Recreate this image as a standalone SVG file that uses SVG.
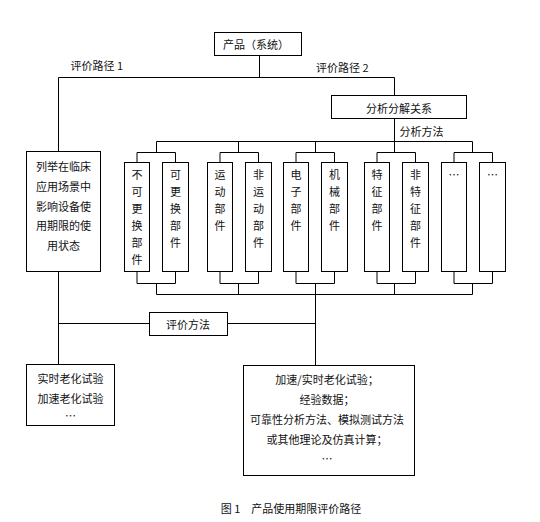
<svg xmlns="http://www.w3.org/2000/svg" width="540" height="522" viewBox="0 0 540 522">
<style>
  .box{fill:#fff;stroke:#000;stroke-width:1}
  .ln{fill:none;stroke:#000;stroke-width:1}
  text{font-family:"Noto Sans CJK SC","Noto Sans",sans-serif;font-size:11px;fill:#111}
  .c{text-anchor:middle}
</style>
<rect width="540" height="522" fill="#fff"/>
<g id="connectors" class="ln">
  <path d="M259.5 55.5V77.5M58.5 77.5H394.5M58.5 77.5V151.5M394.5 77.5V95.5M394.5 118.5V141.5"/>
  <path d="M156.5 141.5H472.5M156.5 141.5V152.5M238.5 141.5V152.5M315.5 141.5V152.5M394.5 141.5V152.5M472.5 141.5V152.5"/>
  <path d="M137 152.5H175.5M137 152.5V162.5M175.5 152.5V162.5"/>
  <path d="M220 152.5H258.5M220 152.5V162.5M258.5 152.5V162.5"/>
  <path d="M296 152.5H334.5M296 152.5V162.5M334.5 152.5V162.5"/>
  <path d="M377 152.5H415.5M377 152.5V162.5M415.5 152.5V162.5"/>
  <path d="M454 152.5H492.5M454 152.5V162.5M492.5 152.5V162.5"/>
  <path d="M137 271.5V283.5H175.5V271.5M220 271.5V283.5H258.5V271.5M296 271.5V283.5H334.5V271.5M377 271.5V283.5H415.5V271.5M454 271.5V283.5H492.5V271.5"/>
  <path d="M156.5 283.5V294.5M238.5 283.5V294.5M315.5 283.5V294.5M394.5 283.5V294.5M472.5 283.5V294.5M156.5 294.5H472.5"/>
  <path d="M315.5 294.5V365.5M58.5 271.5V364.5M58.5 323.5H149.5M227.5 323.5H315.5"/>
</g>
<g id="labels">
  <text x="70.5" y="70">评价路径 1</text>
  <text x="316" y="72">评价路径 2</text>
  <text x="399.5" y="136">分析方法</text>
</g>
<g id="product">
  <rect class="box" x="214.5" y="32.5" width="87" height="23"/>
  <text class="c" x="256" y="48.5">产品（系统）</text>
</g>
<g id="decompose">
  <rect class="box" x="331.5" y="95.5" width="135" height="23"/>
  <text class="c" x="399" y="112.5">分析分解关系</text>
</g>
<g id="usage-state">
  <rect class="box" x="26.5" y="151.5" width="74" height="120"/>
  <text class="c" x="63.5" y="171">列举在临床<tspan x="63.5" dy="19.8">应用场景中</tspan><tspan x="63.5" dy="19.8">影响设备使</tspan><tspan x="63.5" dy="19.8">用期限的使</tspan><tspan x="63.5" dy="19.8">用状态</tspan></text>
</g>
<g id="part-a">
  <rect class="box" x="124.5" y="162.5" width="25" height="109"/>
  <text class="c" x="137" y="179">不<tspan x="137" dy="16.9">可</tspan><tspan x="137" dy="16.9">更</tspan><tspan x="137" dy="16.9">换</tspan><tspan x="137" dy="16.9">部</tspan><tspan x="137" dy="16.9">件</tspan></text>
</g>
<g id="part-b">
  <rect class="box" x="162.5" y="162.5" width="26" height="109"/>
  <text class="c" x="175.5" y="179">可<tspan x="175.5" dy="16.9">更</tspan><tspan x="175.5" dy="16.9">换</tspan><tspan x="175.5" dy="16.9">部</tspan><tspan x="175.5" dy="16.9">件</tspan></text>
</g>
<g id="part-c">
  <rect class="box" x="207.5" y="162.5" width="25" height="109"/>
  <text class="c" x="220" y="179">运<tspan x="220" dy="16.9">动</tspan><tspan x="220" dy="16.9">部</tspan><tspan x="220" dy="16.9">件</tspan></text>
</g>
<g id="part-d">
  <rect class="box" x="245.5" y="162.5" width="26" height="109"/>
  <text class="c" x="258.5" y="179">非<tspan x="258.5" dy="16.9">运</tspan><tspan x="258.5" dy="16.9">动</tspan><tspan x="258.5" dy="16.9">部</tspan><tspan x="258.5" dy="16.9">件</tspan></text>
</g>
<g id="part-e">
  <rect class="box" x="283.5" y="162.5" width="25" height="109"/>
  <text class="c" x="296" y="179">电<tspan x="296" dy="16.9">子</tspan><tspan x="296" dy="16.9">部</tspan><tspan x="296" dy="16.9">件</tspan></text>
</g>
<g id="part-f">
  <rect class="box" x="321.5" y="162.5" width="26" height="109"/>
  <text class="c" x="334.5" y="179">机<tspan x="334.5" dy="16.9">械</tspan><tspan x="334.5" dy="16.9">部</tspan><tspan x="334.5" dy="16.9">件</tspan></text>
</g>
<g id="part-g">
  <rect class="box" x="364.5" y="162.5" width="25" height="109"/>
  <text class="c" x="377" y="179">特<tspan x="377" dy="16.9">征</tspan><tspan x="377" dy="16.9">部</tspan><tspan x="377" dy="16.9">件</tspan></text>
</g>
<g id="part-h">
  <rect class="box" x="402.5" y="162.5" width="26" height="109"/>
  <text class="c" x="415.5" y="179">非<tspan x="415.5" dy="16.9">特</tspan><tspan x="415.5" dy="16.9">征</tspan><tspan x="415.5" dy="16.9">部</tspan><tspan x="415.5" dy="16.9">件</tspan></text>
</g>
<g id="part-i">
  <rect class="box" x="441.5" y="162.5" width="25" height="109"/>
  <text class="c" x="454" y="179">…</text>
</g>
<g id="part-j">
  <rect class="box" x="479.5" y="162.5" width="26" height="109"/>
  <text class="c" x="492.5" y="179">…</text>
</g>
<g id="method">
  <rect class="box" x="149.5" y="312.5" width="78" height="23"/>
  <text class="c" x="188" y="329">评价方法</text>
</g>
<g id="path1-methods">
  <rect class="box" x="26.5" y="364.5" width="88" height="61"/>
  <text class="c" x="70.5" y="383">实时老化试验<tspan x="70.5" dy="20.3">加速老化试验</tspan><tspan x="70.5" dy="17">…</tspan></text>
</g>
<g id="path2-methods">
  <rect class="box" x="243.5" y="365.5" width="171" height="110"/>
  <text class="c" x="327" y="383.5">加速/实时老化试验；<tspan x="327" dy="20.3">经验数据；</tspan><tspan x="327" dy="19.7">可靠性分析方法、模拟测试方法</tspan><tspan x="327" dy="20.3">或其他理论及仿真计算；</tspan><tspan x="327" dy="19.3">…</tspan></text>
</g>
<g id="caption">
  <text class="c" x="291" y="513">图 1　产品使用期限评价路径</text>
</g>
</svg>
